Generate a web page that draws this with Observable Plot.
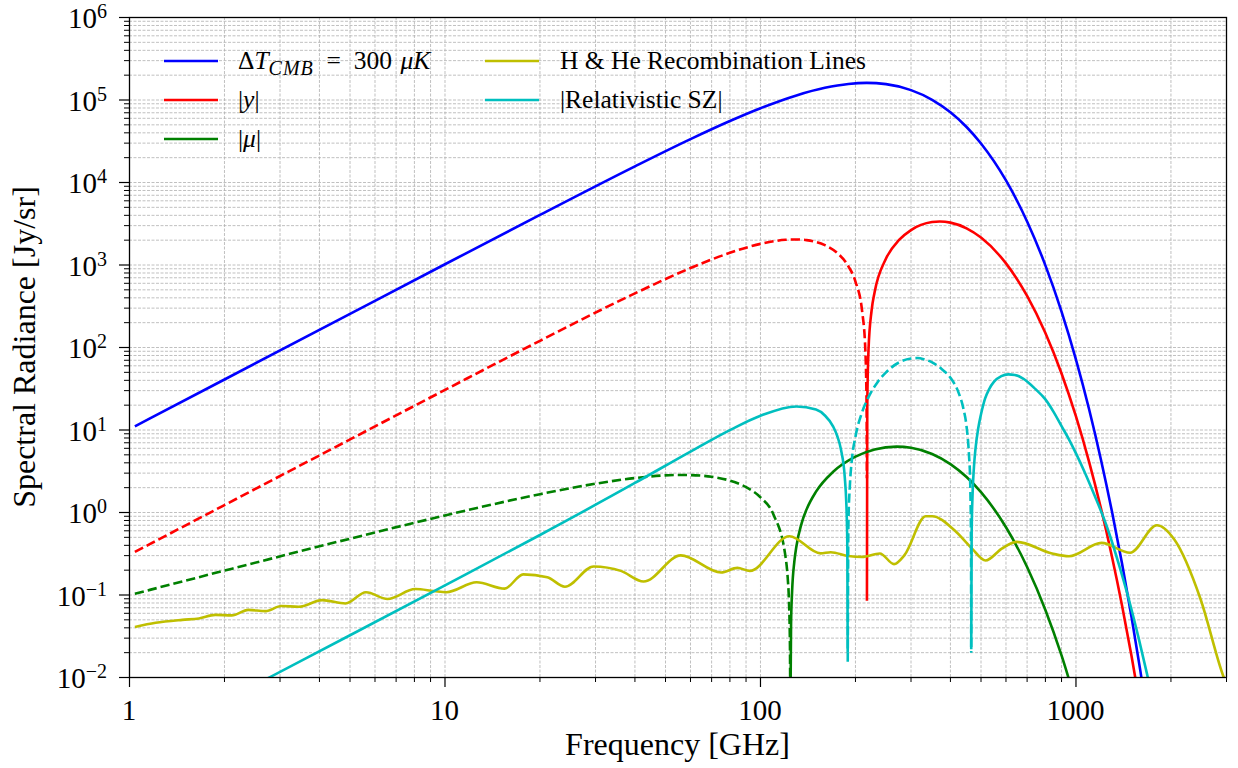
<!DOCTYPE html>
<html>
<head>
<meta charset="utf-8">
<script src="https://cdn.jsdelivr.net/npm/d3@7"></script>
<script src="https://cdn.jsdelivr.net/npm/@observablehq/plot@0.6"></script>
<style>
  html, body { margin: 0; padding: 0; background: #ffffff; }
  #chart { width: 1238px; height: 768px; }
</style>
</head>
<body>
<div id="chart"></div>
<script>
// ---- CMB temperature anisotropy, ΔT = 300 µK (Jy/sr) ----
const cmbFreq = [1.04, 2, 5, 10, 20, 40, 60, 80, 100, 130, 160, 190, 217, 250, 300, 350, 400, 450, 500, 600, 700, 800, 900, 1000, 1100, 1200, 1300, 1400, 1500, 1600, 1700];
const cmbVal  = [11.07, 40.94, 255.7, 1021, 4052, 15717, 33604, 55671, 79543, 113743, 140576, 156537, 161067, 155608, 131827, 100641, 71000, 47105, 29735, 10594, 3373, 988.8, 272.2, 71.29, 17.94, 4.365, 1.033, 0.2388, 0.05408, 0.01203, 0.002635];

// ---- |y| distortion: negative branch (dashed) and positive branch (solid) ----
const yNegFreq = [1.04, 2, 5, 10, 20, 40, 60, 80, 100, 120, 130, 140, 160, 175, 190, 200, 210, 215, 217, 217.4];
const yNegVal  = [0.3327, 1.2306, 7.683, 30.61, 120.56, 453.1, 917.9, 1405.4, 1802.9, 2019.6, 2041.7, 2002.3, 1741.2, 1401.6, 963.4, 630.2, 274.7, 91.39, 17.40, 2.6];
const yPosFreq = [217.5, 218, 220, 225, 230, 250, 275, 300, 350, 370, 400, 450, 500, 600, 700, 800, 900, 1000, 1100, 1200, 1300, 1400, 1500, 1600];
const yPosVal  = [0.085, 19.73, 94.15, 280.9, 467.8, 1197.7, 2010.9, 2650.0, 3312.9, 3364.1, 3262.3, 2783.2, 2149.1, 1045.8, 422.2, 149.96, 48.48, 14.585, 4.144, 1.1242, 0.2934, 0.07414, 0.01822, 0.004372];

// ---- |mu| distortion ----
const muNegFreq = [1.04, 2, 5, 10, 20, 30, 40, 55, 60, 70, 80, 90, 100, 110, 120, 122, 123, 124, 124.3];
const muNegVal  = [0.10351, 0.19753, 0.48146, 0.92076, 1.66756, 2.2326, 2.61388, 2.84936, 2.84248, 2.7102, 2.4340, 2.0328, 1.5275, 0.94063, 0.29409, 0.15957, 0.0919, 0.0237, 0.004];
const muPosFreq = [124.4, 125, 126, 128, 130, 135, 140, 150, 170, 200, 230, 270, 300, 350, 400, 450, 500, 600, 700, 800, 900, 1000];
const muPosVal  = [0.0035, 0.0446, 0.1132, 0.2512, 0.3900, 0.7397, 1.0912, 1.7903, 3.1175, 4.7515, 5.8045, 6.2865, 6.0877, 5.1176, 3.8590, 2.6886, 1.7620, 0.6624, 0.2188, 0.06587, 0.018502, 0.0049235];

// ---- H & He recombination lines ----
const recFreq = [1.04, 1.21, 1.47, 1.66, 1.87, 2.11, 2.38, 2.70, 3.03, 3.44, 4.08, 4.84, 5.62, 6.57, 8.05, 9.2, 10.1, 12.6, 15.45, 17.7, 21.1, 24.0, 29.6, 36.1, 42.6, 55.9, 75.0, 84.5, 92.5, 123.5, 155, 167, 190, 210, 239, 265, 286, 334, 350, 412, 467, 517, 582, 650, 840, 950, 1205, 1485, 1805, 2050, 2480, 2920, 3100];
const recVal  = [0.041, 0.046, 0.050, 0.052, 0.0575, 0.0566, 0.066, 0.0638, 0.0735, 0.072, 0.0867, 0.079, 0.108, 0.0895, 0.118, 0.112, 0.108, 0.1425, 0.1195, 0.178, 0.1645, 0.126, 0.222, 0.196, 0.1455, 0.302, 0.1875, 0.213, 0.196, 0.516, 0.32, 0.33, 0.297, 0.29, 0.319, 0.237, 0.304, 0.90, 0.90, 0.61, 0.37, 0.262, 0.366, 0.44, 0.318, 0.295, 0.428, 0.325, 0.70, 0.47, 0.09, 0.0108, 0.006];

// ---- |relativistic SZ|: three lobes (solid, dashed, solid) ----
const rszLoFreq = [1.04, 2, 2.8, 5, 10, 20, 40, 60, 80, 100, 130, 150, 160, 170, 175, 180, 185, 187, 188, 188.5, 189];
const rszLoVal  = [0.0014, 0.0052, 0.0102, 0.0325, 0.131, 0.534, 2.28, 5.48, 9.98, 14.9, 19.3, 17.7, 15.0, 11.0, 8.52, 5.75, 2.68, 1.36, 0.70, 0.36, 0.02];
const rszMidFreq = [189.07, 190, 192, 195, 200, 210, 220, 235, 250, 275, 300, 315, 330, 350, 375, 400, 425, 440, 450, 458, 462, 465, 465.5];
const rszMidVal  = [0.0155, 0.75, 2.1, 4.5, 8.3, 16.5, 25, 38, 50, 66, 73.5, 74.5, 72, 66, 55, 43, 28, 18, 11, 5.0, 2.4, 0.35, 0.02];
const rszHiFreq = [465.6, 467, 470, 475, 480, 490, 500, 515, 530, 550, 580, 610, 640, 680, 743, 800, 850, 903, 950, 1000, 1070, 1150, 1209, 1270, 1370, 1469, 1580, 1680, 1750];
const rszHiVal  = [0.022, 0.55, 1.6, 3.6, 5.8, 10.5, 15.5, 24, 31, 38.5, 45, 47.2, 46.5, 42, 31.5, 23.5, 16.5, 10.9, 7.7, 5.2, 2.97, 1.55, 0.97, 0.58, 0.23, 0.09, 0.030, 0.011, 0.0054];

// ---- axes ----
const xMajor = [1, 10, 100, 1000];
const xMajorLabels = ["1", "10", "100", "1000"];
const yMajor = [1e-2, 1e-1, 1e0, 1e1, 1e2, 1e3, 1e4, 1e5, 1e6];
const yExpLabels = ["\u22122", "\u22121", "0", "1", "2", "3", "4", "5", "6"];
const mantissas = [2, 3, 4, 5, 6, 7, 8, 9];
const xMinor = xMajor.flatMap(d => mantissas.map(m => m * d)).filter(v => v <= 3000);
const yMinor = yMajor.slice(0, -1).flatMap(d => mantissas.map(m => m * d));

const COLORS = {cmb: "#0000ff", y: "#ff0000", mu: "#008000", rec: "#bfbf00", rsz: "#00bfbf"};
const FONT = "'Liberation Serif', 'DejaVu Serif', serif";
const DASH = "9.25,4";
const LW = 2.6;

const rows = (fs, vs) => fs.map((f, i) => ({f, v: vs[i]}));
const curve = (fs, vs, color, dashed) => Plot.line(rows(fs, vs), {
  x: "f", y: "v", stroke: color, strokeWidth: LW, curve: "monotone-x", clip: true,
  strokeDasharray: dashed ? DASH : null, strokeLinecap: "butt"
});
const gridStyle = {stroke: "#b0b0b0", strokeWidth: 0.8, strokeDasharray: "3,1.5"};

const chart = Plot.plot({
  width: 1238, height: 768,
  marginLeft: 129, marginRight: 12, marginTop: 17, marginBottom: 91,
  style: {fontFamily: FONT, background: "#ffffff", color: "#000000", overflow: "visible"},
  x: {type: "log", domain: [1, 3000]},
  y: {type: "log", domain: [1e-2, 1e6]},
  marks: [
    Plot.ruleX([...xMajor, ...xMinor], gridStyle),
    Plot.ruleY([...yMajor, ...yMinor], gridStyle),
    curve(cmbFreq, cmbVal, COLORS.cmb, false),
    curve(yNegFreq, yNegVal, COLORS.y, true),
    curve(yPosFreq, yPosVal, COLORS.y, false),
    curve(muNegFreq, muNegVal, COLORS.mu, true),
    curve(muPosFreq, muPosVal, COLORS.mu, false),
    curve(recFreq, recVal, COLORS.rec, false),
    curve(rszLoFreq, rszLoVal, COLORS.rsz, false),
    curve(rszMidFreq, rszMidVal, COLORS.rsz, true),
    curve(rszHiFreq, rszHiVal, COLORS.rsz, false),
    Plot.frame({stroke: "#000000", strokeWidth: 1.3}),
    Plot.axisX({ticks: xMajor, tickSize: 10, strokeWidth: 1.2, tickFormat: () => "", label: null}),
    Plot.axisX({ticks: xMinor, tickSize: 5, strokeWidth: 1, tickFormat: () => "", label: null}),
    Plot.axisY({ticks: yMajor, tickSize: 10, strokeWidth: 1.2, tickFormat: () => "", label: null}),
    Plot.axisY({ticks: yMinor, tickSize: 5, strokeWidth: 1, tickFormat: () => "", label: null})
  ]
});
document.getElementById("chart").appendChild(chart);

// ---- tick labels, axis titles and legend drawn on top of the plot ----
const svg = d3.select(chart);
const sx = chart.scale("x"), sy = chart.scale("y");
const overlay = svg.append("g")
  .attr("font-family", FONT).attr("fill", "#000000").attr("text-anchor", "start");

xMajor.forEach((v, i) => {
  overlay.append("text")
    .attr("x", sx.apply(v)).attr("y", 720)
    .attr("text-anchor", "middle").attr("font-size", 29)
    .text(xMajorLabels[i]);
});
yMajor.forEach((v, i) => {
  const t = overlay.append("text")
    .attr("x", 107).attr("y", sy.apply(v) + 11)
    .attr("text-anchor", "end").attr("font-size", 29);
  t.append("tspan").text("10");
  t.append("tspan").attr("font-size", 20).attr("dy", -10).text(yExpLabels[i]);
});

overlay.append("text")
  .attr("x", (sx.apply(1) + sx.apply(3000)) / 2).attr("y", 755)
  .attr("text-anchor", "middle").attr("font-size", 32)
  .text("Frequency [GHz]");
overlay.append("text")
  .attr("transform", `translate(35,${(sy.apply(1e6) + sy.apply(1e-2)) / 2}) rotate(-90)`)
  .attr("text-anchor", "middle").attr("font-size", 32)
  .text("Spectral Radiance [Jy/sr]");

// legend: two columns, three rows
const legendCols = [{line: 164, text: 238}, {line: 485, text: 560}];
const legendRows = [61, 100, 139];
const legendItems = [
  {color: COLORS.cmb, col: 0, row: 0, parts: [["\u0394"], ["T", "i"], ["CMB", "i", "sub"], ["\u2002=\u2002300\u2004"], ["\u03bcK", "i"]]},
  {color: COLORS.y, col: 0, row: 1, parts: [["|"], ["y", "i"], ["|"]]},
  {color: COLORS.mu, col: 0, row: 2, parts: [["|"], ["\u03bc", "i"], ["|"]]},
  {color: COLORS.rec, col: 1, row: 0, parts: [["H & He Recombination Lines"]]},
  {color: COLORS.rsz, col: 1, row: 1, parts: [["|Relativistic SZ|"]]}
];
legendItems.forEach(it => {
  const c = legendCols[it.col], y0 = legendRows[it.row];
  overlay.append("line")
    .attr("x1", c.line).attr("x2", c.line + 54).attr("y1", y0).attr("y2", y0)
    .attr("stroke", it.color).attr("stroke-width", LW);
  const t = overlay.append("text")
    .attr("x", c.text).attr("y", y0 + 8).attr("font-size", 25.5)
    .attr("text-anchor", "start").style("white-space", "pre");
  let shift = 0;
  it.parts.forEach(([s, style, pos]) => {
    const span = t.append("tspan").text(s);
    if (style === "i") span.attr("font-style", "italic");
    if (pos === "sub") {
      span.attr("font-size", 20).attr("dy", 6).attr("letter-spacing", 1);
      shift = 6;
    } else if (shift) {
      span.attr("dy", -shift);
      shift = 0;
    }
  });
});
</script>
</body>
</html>
